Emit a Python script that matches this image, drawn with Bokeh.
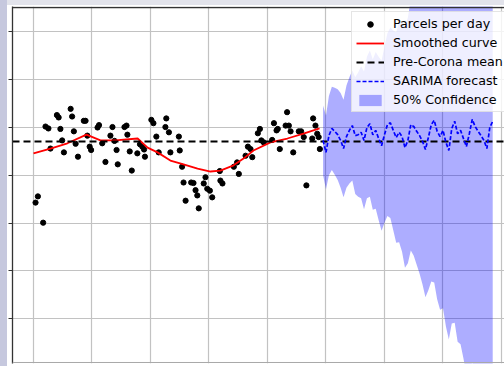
from bokeh.plotting import figure
from bokeh.models import (Range1d, FixedTicker, Span, Legend, LegendItem,
                          CustomJSTickFormatter, Spacer)
from bokeh.layouts import row, column
from bokeh.embed import file_html
from bokeh.resources import INLINE

# Observed parcels per day (day index counted from the start of the series)
obs_day = [0.7, 1.5, 3.3, 4.1, 5.1, 5.8, 8.0, 8.6, 9.2, 9.8,
           10.4, 12.7, 13.2, 13.8, 14.4, 15.2, 17.2, 17.8, 18.4, 19.2,
           19.7, 21.9, 22.4, 23.5, 24.6, 26.3, 27.0, 27.7, 28.4, 28.8,
           31.1, 31.8, 32.1, 32.9, 33.6, 35.5, 36.4, 37.2, 37.8, 38.1,
           40.3, 41.0, 42.0, 42.8, 45.1, 45.4, 46.3, 46.8, 49.7, 50.0,
           50.8, 51.3, 52.0, 53.9, 54.7, 55.4, 56.0, 56.5, 58.2, 58.8,
           59.4, 60.3, 61.1, 63.7, 63.9, 64.6, 68.5, 69.6, 70.2, 72.5,
           73.3, 74.2, 74.8, 76.7, 77.4, 77.9, 78.7, 81.6, 82.2, 83.1,
           83.5, 84.2, 86.2, 86.7, 87.3, 87.9, 88.8, 90.7, 91.5, 92.4,
           93.3, 95.3, 95.6, 96.4, 97.0, 97.5, 97.9]
obs_parcels = [643, 656, 601, 802, 798, 756, 826, 821, 797, 773,
               748, 839, 823, 792, 766, 739, 814, 814, 783, 760,
               753, 800, 805, 767, 728, 783, 801, 772, 753, 723,
               801, 804, 785, 750, 710, 746, 765, 760, 754, 739,
               816, 809, 781, 748, 801, 819, 790, 748, 781, 752,
               718, 685, 647, 685, 684, 669, 658, 631, 683, 696,
               672, 668, 654, 709, 689, 683, 718, 727, 703, 741,
               760, 755, 738, 788, 797, 773, 769, 774, 809, 794,
               797, 755, 804, 832, 804, 792, 748, 792, 792, 780,
               679, 777, 819, 804, 787, 780, 755]

# Smoothed curve through the observations
smooth_day = [0, 5.8, 11.6, 18.1, 22.9, 28.0, 35.6, 39.0, 42.4, 46.8, 51.3,
              56.1, 60.5, 63.9, 68.4, 71.8, 75.2, 81.0, 86.8, 92.3, 97.8]
smooth_parcels = [746, 756, 767, 785, 773, 773, 777, 758, 748, 731, 723,
                  714, 708, 710, 721, 735, 752, 769, 777, 787, 798]

# Mean level before the pandemic
pre_corona_mean = 771

# SARIMA forecast with its 50% confidence band
fc_day = list(range(99, 158))
fc_parcels = [773, 748, 783, 798, 792, 785, 773,
              756, 781, 794, 804, 783, 785, 790,
              773, 800, 808, 785, 794, 777, 762,
              785, 806, 810, 794, 779, 790, 781,
              758, 773, 806, 802, 792, 783, 771,
              754, 779, 806, 815, 792, 781, 794,
              769, 752, 798, 813, 787, 794, 777,
              760, 787, 817, 802, 792, 783, 773,
              756, 800, 813]
fc_lower = [700, 671, 700, 711, 701, 690, 674,
            654, 674, 683, 689, 661, 655, 652,
            629, 652, 655, 628, 630, 606, 584,
            601, 615, 611, 585, 559, 560, 540,
            507, 516, 543, 532, 513, 494, 472,
            445, 460, 478, 476, 441, 419, 422,
            384, 357, 390, 392, 352, 347, 317,
            283, 295, 308, 277, 251, 226, 197,
            161, 187, 182]
fc_upper = [846, 825, 866, 885, 883, 880, 872,
            858, 888, 905, 919, 905, 915, 928,
            917, 948, 961, 942, 958, 948, 940,
            969, 997, 1009, 1003, 999, 1020, 1022,
            1009, 1030, 1069, 1072, 1071, 1072, 1070,
            1063, 1098, 1134, 1154, 1143, 1143, 1166,
            1154, 1147, 1206, 1234, 1222, 1241, 1237,
            1237, 1279, 1326, 1327, 1333, 1340, 1349,
            1351, 1413, 1444]

# Grid positions
grid_days = [0, 20, 40, 60, 80, 100, 120, 140, 160]
grid_parcels = [400, 500, 600, 700, 800, 900, 1000]

# Visible window
x_lo, x_hi = -7.18, 161.03
y_lo, y_hi = 306.6, 1053.0

p = figure(width=497, height=361,
           x_range=Range1d(x_lo, x_hi), y_range=Range1d(y_lo, y_hi),
           output_backend="svg", toolbar_location=None,
           min_border_left=5, min_border_right=0,
           min_border_top=1, min_border_bottom=3)
p.background_fill_color = "white"
p.border_fill_color = "white"
p.outline_line_color = None

# Axes: left spine with outward ticks, no labels; bottom axis hidden
p.xaxis.visible = False
p.yaxis.ticker = FixedTicker(ticks=grid_parcels)
p.yaxis.formatter = CustomJSTickFormatter(code="return ''")
p.yaxis.major_label_standoff = 0
p.yaxis.major_tick_out = 4
p.yaxis.major_tick_in = 0
p.yaxis.minor_tick_line_color = None
p.yaxis.axis_line_color = "#333333"
p.yaxis.axis_line_width = 1.3
p.yaxis.major_tick_line_color = "#333333"
p.yaxis.major_tick_line_width = 1.2

p.xgrid.ticker = FixedTicker(ticks=grid_days)
p.ygrid.ticker = FixedTicker(ticks=grid_parcels)
for g in (p.xgrid, p.ygrid):
    g.grid_line_color = "#c2c2c2"
    g.grid_line_width = 1.2

# Top and bottom frame lines
p.add_layout(Span(location=y_hi - 2.1, dimension="width",
                  line_color="#333333", line_width=1.3))
p.add_layout(Span(location=y_lo + 2.1, dimension="width",
                  line_color="#a8a8a8", line_width=1.0))

band = p.varea(x=fc_day, y1=fc_lower, y2=fc_upper,
               fill_color="#0000ff", fill_alpha=0.32)
dots = p.scatter(obs_day, obs_parcels, size=5.2, color="black")
smooth = p.line(smooth_day, smooth_parcels, line_color="#ff0000", line_width=1.8)
mean = p.line([x_lo, x_hi], [pre_corona_mean, pre_corona_mean],
              line_color="black", line_width=2, line_dash="7 4")
fc = p.line(fc_day, fc_parcels, line_color="#0000ff", line_width=1.7,
            line_dash="4 2")

legend = Legend(items=[
    LegendItem(label="Parcels per day", renderers=[dots]),
    LegendItem(label="Smoothed curve", renderers=[smooth]),
    LegendItem(label="Pre-Corona mean", renderers=[mean]),
    LegendItem(label="SARIMA forecast", renderers=[fc]),
    LegendItem(label="50% Confidence", renderers=[band]),
], location=(339, 251))
legend.label_text_font = "DejaVu Sans"
legend.label_text_font_size = "12.7px"
legend.label_text_color = "black"
legend.glyph_width = 28
legend.glyph_height = 14
legend.label_height = 15
legend.label_standoff = 9
legend.spacing = 4
legend.padding = 4
legend.margin = 0
legend.border_line_color = "#cccccc"
legend.border_line_width = 1
legend.background_fill_color = "white"
legend.background_fill_alpha = 0.8
p.add_layout(legend)

left_strip = Spacer(width=7, height=366, styles={"background-color": "#c6c8de"})
top_strip = Spacer(width=497, height=5, styles={"background-color": "#e2e3eb"})
page = row(left_strip, column(top_strip, p))

open("out.html", "w").write(file_html(page, INLINE))
